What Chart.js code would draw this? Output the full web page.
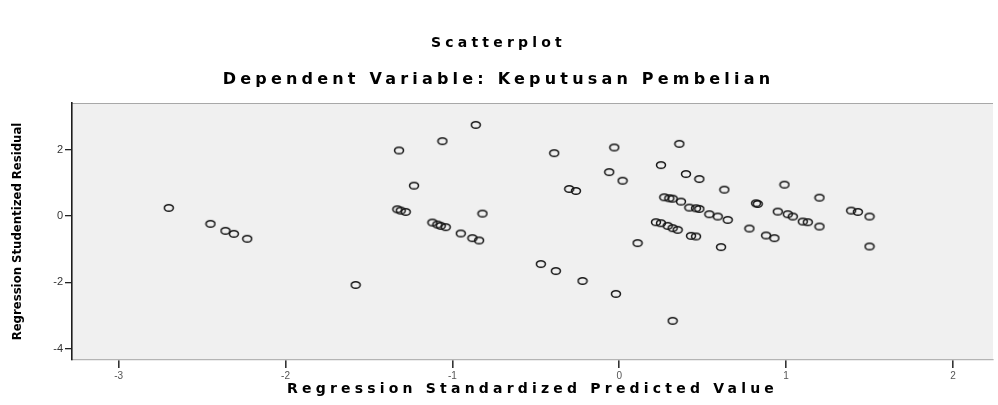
<!DOCTYPE html>
<html>
<head>
<meta charset="utf-8">
<script src="https://cdn.jsdelivr.net/npm/chart.js@4.4.1/dist/chart.umd.min.js"></script>
<style>
  html, body { margin: 0; padding: 0; background: #ffffff; }
  #wrap { width: 998px; height: 405px; }
</style>
</head>
<body>
<div id="wrap"><canvas id="c" width="998" height="405"></canvas></div>
<script>
// ---- data ----
const chartTitle = 'Scatterplot';
const chartSubtitle = 'Dependent Variable: Keputusan Pembelian';
const xAxisTitle = 'Regression Standardized Predicted Value';
const yAxisTitle = 'Regression Studentized Residual';

const xTicks = [-3, -2, -1, 0, 1, 2];
const yTicks = [-4, -2, 0, 2];

const predictedValues = [
  -2.70, -2.45, -2.36, -2.31, -2.23, -1.58, -1.32, -1.23, -1.33, -1.31,
  -1.28, -1.12, -1.09, -1.07, -1.04, -1.06, -0.95, -0.88, -0.84, -0.86,
  -0.82, -0.47, -0.39, -0.38, -0.30, -0.26, -0.22, -0.06, -0.03, -0.02,
   0.02,  0.11,  0.22,  0.25,  0.25,  0.27,  0.29,  0.30,  0.32,  0.32,
   0.32,  0.35,  0.36,  0.37,  0.40,  0.42,  0.43,  0.46,  0.46,  0.48,
   0.48,  0.54,  0.59,  0.61,  0.63,  0.65,  0.78,  0.82,  0.83,  0.88,
   0.93,  0.95,  0.99,  1.01,  1.04,  1.10,  1.13,  1.20,  1.20,  1.39,
   1.43,  1.50,  1.50
];
const studentizedResiduals = [
   0.24, -0.24, -0.45, -0.54, -0.69, -2.08,  1.97,  0.91,  0.20,  0.16,
   0.12, -0.20, -0.26, -0.30, -0.34,  2.25, -0.53, -0.67, -0.74,  2.74,
   0.07, -1.45,  1.89, -1.66,  0.81,  0.75, -1.96,  1.32,  2.06, -2.35,
   1.06, -0.82, -0.19,  1.53, -0.22,  0.56, -0.30,  0.53,  0.52, -0.37,
  -3.16, -0.42,  2.17,  0.43,  1.26,  0.25, -0.60,  0.23, -0.62,  0.21,
   1.11,  0.05, -0.02, -0.94,  0.79, -0.12, -0.38,  0.38,  0.36, -0.59,
  -0.67,  0.13,  0.94,  0.05, -0.02, -0.17, -0.19, -0.32,  0.55,  0.16,
   0.12, -0.02, -0.92
];

const points = predictedValues.map((x, i) => ({ x: x, y: studentizedResiduals[i] }));

// hollow elliptical marker (SPSS style)
const marker = document.createElement('canvas');
marker.width = 12; marker.height = 10;
(function () {
  const m = marker.getContext('2d');
  m.strokeStyle = '#141414';
  m.lineWidth = 1.5;
  m.beginPath();
  m.ellipse(6, 5, 4.5, 3.3, 0, 0, Math.PI * 2);
  m.stroke();
})();

const SPACING = '4.2px';

const plotBackground = {
  id: 'plotBackground',
  beforeDraw(chart) {
    const { ctx, chartArea: a } = chart;
    ctx.save();
    ctx.fillStyle = '#f0f0f0';
    ctx.fillRect(a.left, a.top, a.right - a.left, a.bottom - a.top);
    ctx.strokeStyle = '#a8a8a8';
    ctx.lineWidth = 1.2;
    ctx.beginPath();
    ctx.moveTo(a.left, a.top + 0.5);
    ctx.lineTo(a.right, a.top + 0.5);
    ctx.stroke();
    ctx.restore();

    // letter spacing for the wide bold headings
    ctx.letterSpacing = SPACING;
    ['x', 'y'].forEach(id => {
      const s = chart.scales[id];
      if (!s || s._spacingPatched) return;
      s._spacingPatched = true;
      const origLabels = s.drawLabels;
      s.drawLabels = function (area) {
        const c = this.ctx; const prev = c.letterSpacing;
        c.letterSpacing = '0px'; origLabels.call(this, area); c.letterSpacing = prev;
      };
      if (id === 'y') {
        const origTitle = s.drawTitle;
        s.drawTitle = function () {
          const c = this.ctx; const prev = c.letterSpacing;
          c.letterSpacing = '0px'; origTitle.call(this); c.letterSpacing = prev;
        };
      }
    });
  },
  beforeDatasetsDraw(chart) { chart.ctx.letterSpacing = '0px'; },
  afterDraw(chart) { chart.ctx.letterSpacing = '0px'; }
};

new Chart(document.getElementById('c'), {
  type: 'scatter',
  data: {
    datasets: [{
      label: 'Residual',
      data: points,
      pointStyle: marker,
      pointRadius: 4,
      pointHoverRadius: 4
    }]
  },
  options: {
    responsive: false,
    animation: false,
    devicePixelRatio: 1,
    layout: { padding: { left: 0, right: 1, top: 0, bottom: 0 } },
    plugins: {
      legend: { display: false },
      tooltip: { enabled: false },
      title: {
        display: true,
        text: chartTitle,
        color: '#000',
        font: { family: 'DejaVu Sans', size: 14, weight: 'bold', lineHeight: 1.2 },
        padding: { top: 35, bottom: 0 }
      },
      subtitle: {
        display: true,
        text: chartSubtitle,
        color: '#000',
        font: { family: 'DejaVu Sans', size: 16, weight: 'bold', lineHeight: 1.2 },
        padding: { top: 18, bottom: 14 }
      }
    },
    scales: {
      x: {
        type: 'linear',
        min: -3.28,
        max: 2.24,
        afterBuildTicks(scale) { scale.ticks = xTicks.map(v => ({ value: v })); },
        afterFit(scale) { scale.height = 45; },
        grid: { display: true, drawOnChartArea: false, drawTicks: true, tickLength: 8, color: '#333', lineWidth: 1.6, z: -1 },
        border: { display: true, color: '#b4b4b4', width: 1.2, z: 1 },
        ticks: { color: '#555', font: { family: 'Liberation Sans', size: 10 }, padding: 2, z: 1,
                 callback: v => String(v) },
        title: {
          display: true,
          text: xAxisTitle,
          color: '#000',
          font: { family: 'DejaVu Sans', size: 14, weight: 'bold', lineHeight: 1.2 },
          padding: { top: 0, bottom: 7 }
        }
      },
      y: {
        type: 'linear',
        min: -4.34,
        max: 3.40,
        afterBuildTicks(scale) { scale.ticks = yTicks.map(v => ({ value: v })); },
        afterFit(scale) { scale.width = 72; },
        grid: { display: true, drawOnChartArea: false, drawTicks: true, tickLength: 7, color: '#222', lineWidth: 1.3, z: -2 },
        border: { display: true, color: '#1e1e1e', width: 1.6, z: 1 },
        ticks: { color: '#333', font: { family: 'Liberation Sans', size: 11 }, padding: 2, z: 1,
                 callback: v => String(v) },
        title: {
          display: true,
          text: yAxisTitle,
          color: '#000',
          font: { family: "'DejaVu Sans Condensed', 'Liberation Sans'", size: 13, weight: 'bold', lineHeight: 1.2 },
          padding: { top: 10, bottom: 0 }
        }
      }
    }
  },
  plugins: [plotBackground]
});
</script>
</body>
</html>
